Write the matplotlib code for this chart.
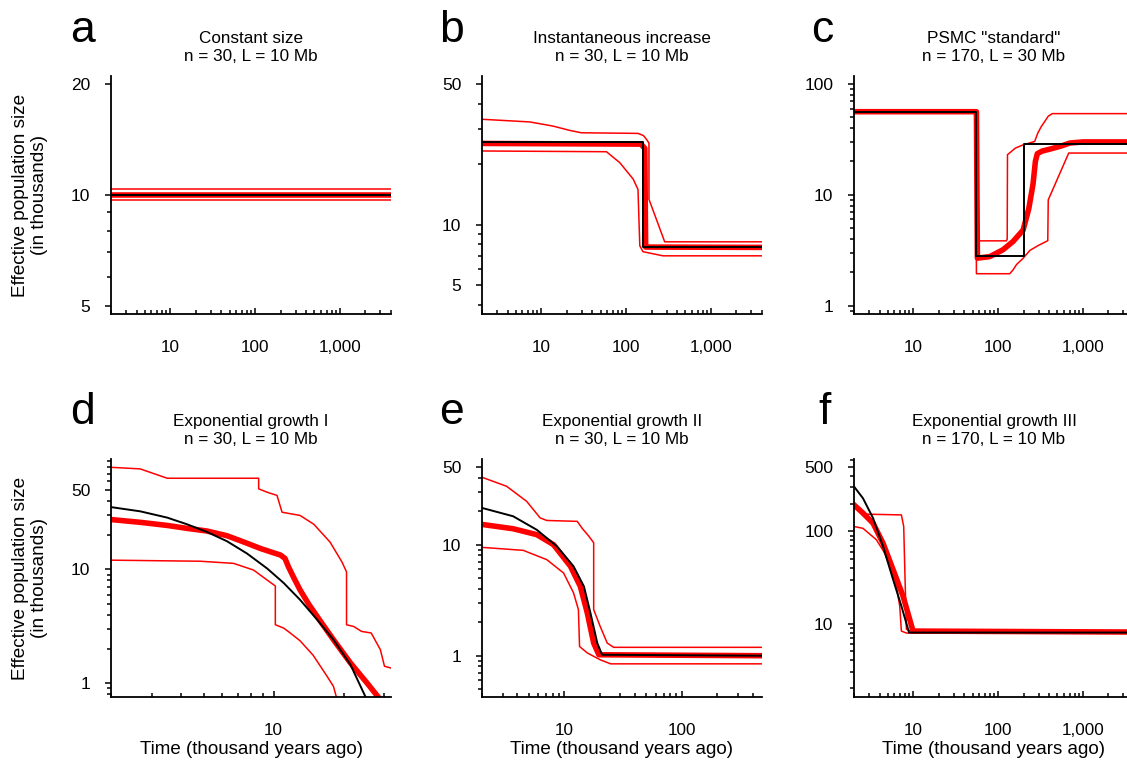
import matplotlib
matplotlib.use('Agg')
import matplotlib.pyplot as plt
from matplotlib.ticker import FixedLocator, FuncFormatter, NullFormatter

plt.rcParams['font.family'] = ['Liberation Sans', 'DejaVu Sans']

# ── panel a: constant size ──────────────────────────────────────────────
A_T      = [2, 4000]
A_TRUE   = [10.0, 10.0]
A_MED    = [10.0, 10.0]
A_HI     = [10.4, 10.4]
A_LO     = [9.7, 9.7]

# ── panel b: instantaneous increase ─────────────────────────────────────
B_TRUE_T = [2, 158, 158, 4000]
B_TRUE   = [25.8, 25.8, 7.72, 7.72]
B_MED_T  = [2, 150, 166, 170, 4000]
B_MED    = [25.4, 25.2, 24.0, 7.75, 7.72]
B_HI_T   = [2, 7.3, 13.7, 21.6, 29.7, 138, 160, 174, 186, 186, 285, 4000]
B_HI     = [33.5, 32.5, 31.0, 29.5, 28.7, 28.5, 27.8, 26.6, 25.5, 13.4, 8.23, 8.23]
B_LO_T   = [2, 58.6, 84, 121, 138, 145, 158, 272, 4000]
B_LO     = [23.3, 23.1, 20.4, 16.9, 15.0, 7.87, 7.35, 7.01, 7.01]

# ── panel c: PSMC "standard" ────────────────────────────────────────────
C_TRUE_T = [2, 55.5, 55.5, 202, 202, 4000]
C_TRUE   = [56.2, 56.2, 2.83, 2.83, 28.7, 28.7]
C_MED_T  = [2, 55.5, 57, 80, 114, 150, 197, 230, 258, 275, 290, 330, 406, 550, 700, 1000, 4000]
C_MED    = [56.2, 56.2, 2.68, 2.77, 3.19, 3.79, 4.8, 7.5, 12.5, 20.0, 23.5, 24.8, 25.8, 27.5, 29.3, 30.0, 30.0]
C_HI_T   = [2, 56, 57, 125, 128, 129, 160, 197, 270, 294, 324, 355, 390, 436, 4000]
C_HI     = [57.5, 57.5, 3.84, 3.84, 3.98, 23.0, 26.4, 28.2, 30.3, 36.1, 41.5, 45.9, 51.2, 54.0, 54.0]
C_LO_T   = [2, 54.5, 55.5, 137, 150, 165, 195, 237, 300, 385, 390, 680, 4000]
C_LO     = [55.0, 55.0, 1.94, 1.94, 2.1, 2.35, 2.65, 3.15, 3.5, 3.85, 9.0, 23.8, 23.8]

# ── panel d: exponential growth I ───────────────────────────────────────
D_TRUE_T = [2, 2.67, 3.49, 4.24, 5.17, 6.31, 7.69, 9.38, 11.05, 13.0, 15.4, 18.1, 21.4, 24.8, 26]
D_TRUE   = [35.4, 32.5, 28.6, 25.0, 21.4, 17.7, 13.8, 10.2, 7.6, 5.4, 3.6, 2.4, 1.45, 0.76, 0.6]
D_MED_T  = [2, 2.67, 3.49, 4.24, 5.17, 6.31, 7.69, 8.77, 10.0, 10.7, 11.2, 11.6, 12.2, 13.0,
            14.2, 15.9, 18.1, 21.4, 25.2, 27.9, 29]
D_MED    = [27.5, 26.0, 24.4, 23.0, 21.8, 19.8, 17.0, 15.3, 14.0, 13.4, 12.5, 10.5, 8.5, 6.6,
            4.9, 3.5, 2.4, 1.5, 1.0, 0.77, 0.7]
D_HI_T   = [2, 2.67, 3.49, 8.63, 8.63, 9.38, 10.35, 10.88, 13.0, 14.9, 17.5, 19.7, 20.6, 20.6,
            22.1, 23.9, 26.3, 28.8, 30.0, 32]
D_HI     = [79.4, 76.9, 63.6, 63.6, 51.3, 47.9, 44.9, 31.9, 29.9, 25.0, 17.4, 11.6, 9.5, 3.25,
            3.14, 2.84, 2.75, 1.96, 1.40, 1.35]
D_LO_T   = [2, 4.84, 6.73, 8.21, 9.38, 10.18, 10.18, 11.05, 11.8, 13.0, 14.8, 17.0, 18.1, 18.8]
D_LO     = [12.06, 11.8, 11.3, 9.86, 8.06, 7.14, 3.25, 3.04, 2.75, 2.35, 1.75, 1.14, 0.93, 0.7]

# ── panel e: exponential growth II ──────────────────────────────────────
E_TRUE_T = [2, 3.68, 5.84, 8.67, 12.0, 14.7, 16.7, 19.1, 21.0, 480]
E_TRUE   = [21.4, 18.0, 13.6, 9.65, 6.38, 4.21, 2.43, 1.30, 1.02, 1.0]
E_MED_T  = [2, 3.68, 5.84, 8.1, 11.3, 13.7, 15.7, 17.8, 19.7, 480]
E_MED    = [15.2, 13.9, 12.3, 10.0, 6.38, 4.21, 2.43, 1.30, 1.02, 1.0]
E_HI_T   = [2, 3.24, 4.80, 6.24, 7.11, 12.9, 14.3, 16.2, 17.8, 17.8, 20.2, 23.2, 26.3, 480]
E_HI     = [40.4, 33.5, 24.5, 17.4, 16.5, 16.2, 13.9, 11.9, 10.4, 2.60, 1.84, 1.30, 1.19, 1.19]
E_LO_T   = [2, 4.49, 7.11, 9.88, 12.0, 13.2, 13.5, 15.7, 20.2, 24.8, 480]
E_LO     = [9.45, 8.88, 7.32, 5.55, 3.68, 2.6, 1.21, 1.06, 0.92, 0.845, 0.845]

# ── panel f: exponential growth III ─────────────────────────────────────
F_TRUE_T = [2, 2.55, 3.35, 4.40, 5.77, 7.24, 8.91, 4000]
F_TRUE   = [307, 229, 140, 68.8, 30.2, 15.5, 8.0, 8.0]
F_MED_T  = [2, 2.55, 3.35, 4.4, 5.77, 7.57, 9.93, 4000]
F_MED    = [194, 158, 123, 74.4, 38.6, 19.9, 8.3, 8.1]
F_HI_T   = [2, 2.6, 7.24, 7.71, 8.0, 8.3, 9, 4000]
F_HI     = [200, 154, 151, 113, 30, 8.7, 8.4, 8.4]
F_LO_T   = [2, 2.55, 3.67, 4.82, 6.32, 6.92, 7.24, 8.3, 4000]
F_LO     = [113, 108, 81.3, 54.4, 25.6, 15.5, 8.3, 7.9, 7.9]

TITLES = ['Constant size\nn = 30, L = 10 Mb',
          'Instantaneous increase\nn = 30, L = 10 Mb',
          'PSMC "standard"\nn = 170, L = 30 Mb',
          'Exponential growth I\nn = 30, L = 10 Mb',
          'Exponential growth II\nn = 30, L = 10 Mb',
          'Exponential growth III\nn = 170, L = 10 Mb']
LETTERS = ['a', 'b', 'c', 'd', 'e', 'f']
XLIMS = [(2, 4000), (2, 4000), (2, 4000), (2, 32), (2, 480), (2, 4000)]
YLIMS = [(4.75, 21), (3.6, 55), (0.84, 118), (0.75, 94), (0.425, 59), (1.6, 610)]
XMAJOR = [[10, 100, 1000]] * 3 + [[10], [10, 100], [10, 100, 1000]]
YMAJOR = [[5, 10, 20], [5, 10, 50], [1, 10, 100], [1, 10, 50], [1, 10, 50], [10, 100, 500]]

# minor log ticks at 2..9 x 10^k
LOG_MINOR = [m * 10.0 ** k for k in range(-1, 4) for m in range(2, 10)]

W, H = 1127, 761
LEFTS = [111, 482, 854]
TOPS = [76, 459]
LETTER_POS = [(70, 42), (439, 42), (811, 42), (70, 424), (439, 424), (818, 424)]

fig = plt.figure(figsize=(W / 100, H / 100), dpi=100)

series = [
    (A_T, A_TRUE, A_T, A_MED, A_T, A_HI, A_T, A_LO),
    (B_TRUE_T, B_TRUE, B_MED_T, B_MED, B_HI_T, B_HI, B_LO_T, B_LO),
    (C_TRUE_T, C_TRUE, C_MED_T, C_MED, C_HI_T, C_HI, C_LO_T, C_LO),
    (D_TRUE_T, D_TRUE, D_MED_T, D_MED, D_HI_T, D_HI, D_LO_T, D_LO),
    (E_TRUE_T, E_TRUE, E_MED_T, E_MED, E_HI_T, E_HI, E_LO_T, E_LO),
    (F_TRUE_T, F_TRUE, F_MED_T, F_MED, F_HI_T, F_HI, F_LO_T, F_LO),
]

thousands = FuncFormatter(lambda v, p: f'{v:,.0f}' if v >= 1 else f'{v:g}')

for i in range(6):
    row, col = divmod(i, 3)
    left, top = LEFTS[col], TOPS[row]
    ax = fig.add_axes([left / W, 1 - (top + 238) / H, 280 / W, 238 / H])
    tt, tv, mt, mv, ht, hv, lt, lv = series[i]

    # bounds (thin), median (thick red), true history (black)
    ax.plot(ht, hv, color='red', lw=1.1)
    ax.plot(lt, lv, color='red', lw=1.1)
    ax.plot(mt, mv, color='red', lw=4.0)
    ax.plot(tt, tv, color='black', lw=1.4)

    ax.set_xscale('log')
    ax.set_yscale('log')

    ax.xaxis.set_major_locator(FixedLocator(XMAJOR[i]))
    ax.xaxis.set_minor_locator(FixedLocator(LOG_MINOR))
    ax.xaxis.set_major_formatter(thousands)
    ax.xaxis.set_minor_formatter(NullFormatter())
    ax.yaxis.set_major_locator(FixedLocator(YMAJOR[i]))
    ax.yaxis.set_minor_locator(FixedLocator(LOG_MINOR))
    ax.yaxis.set_major_formatter(thousands)
    ax.yaxis.set_minor_formatter(NullFormatter())
    ax.set_xlim(*XLIMS[i])
    ax.set_ylim(*YLIMS[i])

    for s in ['top', 'right']:
        ax.spines[s].set_visible(False)
    for s in ['left', 'bottom']:
        ax.spines[s].set_linewidth(1.3)

    ax.tick_params(axis='x', which='major', direction='in', length=4.2, width=1.1,
                   pad=18.5, labelsize=12.3)
    ax.tick_params(axis='x', which='minor', direction='in', length=3.0, width=1.1)
    ax.tick_params(axis='y', which='major', direction='out', length=4.3, width=1.1,
                   pad=10.5, labelsize=12.5)
    ax.tick_params(axis='y', which='minor', direction='out', length=2.6, width=1.1)

    ax.set_title(TITLES[i], fontsize=12.3, pad=11)

    if col == 0:
        ax.set_ylabel('Effective population size\n(in thousands)', fontsize=13.7,
                      va='center', linespacing=1.15)
        ax.yaxis.set_label_coords(-0.289, 0.5)
    if row == 1:
        ax.set_xlabel('Time (thousand years ago)', fontsize=13.5, va='baseline')
        ax.xaxis.set_label_coords(0.5, -0.2395)

    lx, ly = LETTER_POS[i]
    fig.text(lx / W, 1 - ly / H, LETTERS[i], fontsize=32, va='baseline', ha='left')

fig.savefig('out.png', dpi=100)
